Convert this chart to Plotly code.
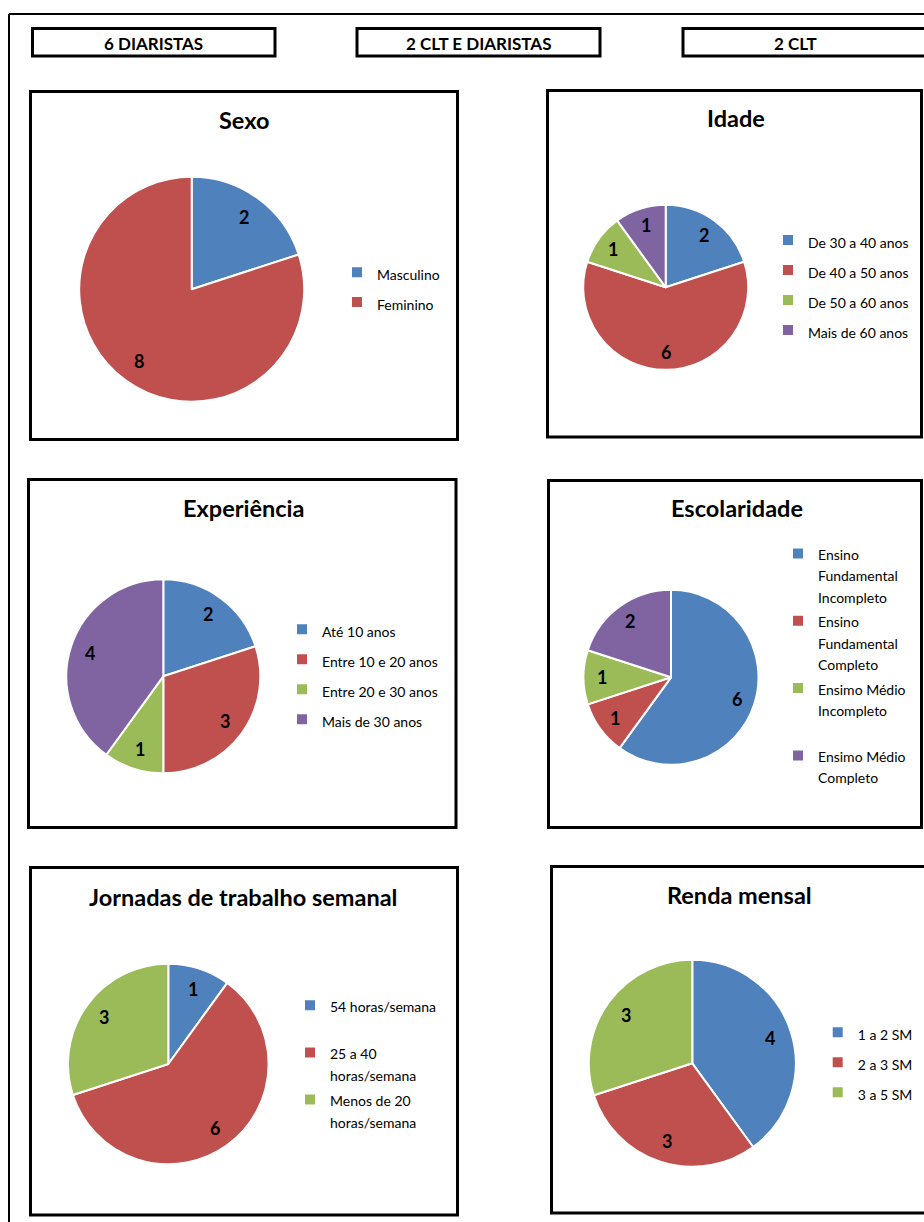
import math
import plotly.graph_objects as go

# ---------------- data ----------------
header_labels = ["6 DIARISTAS", "2 CLT E DIARISTAS", "2 CLT"]

sexo_title = "Sexo"
sexo_labels = ["Masculino", "Feminino"]
sexo_values = [2, 8]

idade_title = "Idade"
idade_labels = ["De 30 a 40 anos", "De 40 a 50 anos", "De 50 a 60 anos", "Mais de 60 anos"]
idade_values = [2, 6, 1, 1]

exp_title = "Experiência"
exp_labels = ["Até 10 anos", "Entre 10 e 20 anos", "Entre 20 e 30 anos", "Mais de 30 anos"]
exp_values = [2, 3, 1, 4]

esc_title = "Escolaridade"
esc_labels = ["Ensino<br>Fundamental<br>Incompleto", "Ensino<br>Fundamental<br>Completo",
              "Ensimo Médio<br>Incompleto<br> ", "Ensimo Médio<br>Completo"]
esc_values = [6, 1, 1, 2]

jor_title = "Jornadas de trabalho semanal"
jor_labels = ["54 horas/semana<br> ", "25 a 40<br>horas/semana", "Menos de 20<br>horas/semana"]
jor_values = [1, 6, 3]

renda_title = "Renda mensal"
renda_labels = ["1 a 2 SM", "2 a 3 SM", "3 a 5 SM"]
renda_values = [4, 3, 3]

colors = ["#4F81BD", "#C0504D", "#9BBB59", "#8064A2"]

# ---------------- layout helpers ----------------
W, H = 924, 1222
FONT = "Lato, 'Open Sans', sans-serif"
LABEL_RADIUS = 0.79  # data labels sit at this fraction of the radius, on the slice mid-angle


def px(x):
    return x / W


def py(y):
    return 1 - y / H


def styled(label, size=14):
    return "<br>".join(f'<span style="font-size:{size}px">{part}</span>' for part in label.split("<br>"))


# (title, labels, values, panel rect, title pos, pie centre, radius, legend text x, first row y, legend font)
panels = [
    (sexo_title, sexo_labels, sexo_values, (30.5, 91.5, 457.5, 439.5), (244, 120), (191.7, 289.3), 112.5, 375, 274.3, 20.5),
    (idade_title, idade_labels, idade_values, (547.5, 90.5, 921.5, 437), (736, 118), (665.7, 287.3), 82.5, 806, 242, 20.8),
    (exp_title, exp_labels, exp_values, (28.5, 479.5, 456, 827.5), (243, 508), (163.3, 676.3), 97, 320, 631.3, 20.8),
    (esc_title, esc_labels, esc_values, (548.5, 480.5, 921.5, 827.5), (737, 508), (671, 677.3), 87.5, 816, 554, 16.5),
    (jor_title, jor_labels, jor_values, (30.5, 867.5, 457.5, 1215), (243, 897), (168.3, 1064), 100.3, 328, 1006, 17),
    (renda_title, renda_labels, renda_values, (551.5, 866.5, 935, 1213), (739, 895), (692.3, 1063.3), 103.5, 855.7, 1034.3, 20.8),
]

fig = go.Figure()
shapes = []
annotations = []
layout_legends = {}

# outer frame
shapes.append(dict(type="line", xref="paper", yref="paper", x0=px(9), x1=px(930), y0=py(14), y1=py(14),
                   line=dict(color="black", width=2)))
shapes.append(dict(type="line", xref="paper", yref="paper", x0=px(9), x1=px(9), y0=py(14), y1=py(1230),
                   line=dict(color="black", width=2)))

# header boxes
header_boxes = [(32.5, 275), (357, 600), (683, 935)]
for lab, (x0, x1) in zip(header_labels, header_boxes):
    shapes.append(dict(type="rect", xref="paper", yref="paper", x0=px(x0), x1=px(x1), y0=py(28.5), y1=py(56),
                       line=dict(color="black", width=3)))
    cx = (x0 + x1) / 2 if x1 < 924 else (x0 + 908) / 2
    annotations.append(dict(text=f"<b>{lab}</b>", xref="paper", yref="paper", x=px(cx), y=py(43),
                            xanchor="center", yanchor="middle", showarrow=False,
                            font=dict(family=FONT, size=17, color="black")))

for i, (title, labels, values, rect, tpos, centre, r, legx, legy, legf) in enumerate(panels):
    x0, y0, x1, y1 = rect
    shapes.append(dict(type="rect", xref="paper", yref="paper", x0=px(x0), x1=px(x1), y0=py(y0), y1=py(y1),
                       line=dict(color="black", width=3), layer="below"))
    annotations.append(dict(text=f"<b>{title}</b>", xref="paper", yref="paper", x=px(tpos[0]), y=py(tpos[1]),
                            xanchor="center", yanchor="middle", showarrow=False,
                            font=dict(family=FONT, size=23.5, color="black")))
    cx, cy = centre
    legname = "legend" if i == 0 else f"legend{i + 1}"
    fig.add_trace(go.Pie(
        labels=[styled(l) for l in labels],
        values=values,
        sort=False,
        direction="clockwise",
        rotation=0,
        marker=dict(colors=colors[:len(values)], line=dict(color="white", width=2)),
        textinfo="none",
        domain=dict(x=[px(cx - r), px(cx + r)], y=[py(cy + r), py(cy - r)]),
        hoverinfo="skip",
        legend=legname,
        showlegend=True,
    ))
    # data labels (value), placed on each slice's mid-angle like Excel does
    total = float(sum(values))
    cum = 0.0
    for v in values:
        theta = 2 * math.pi * (cum + v / 2) / total
        cum += v
        lx = cx + LABEL_RADIUS * r * math.sin(theta)
        ly = cy - LABEL_RADIUS * r * math.cos(theta)
        annotations.append(dict(text=f"<b>{v}</b>", xref="paper", yref="paper", x=px(lx), y=py(ly),
                                xanchor="center", yanchor="middle", showarrow=False,
                                font=dict(family=FONT, size=18, color="black")))
    lh = 1.3 * legf
    layout_legends[legname] = dict(
        x=px(legx - 38), y=py(legy - lh / 2 - 1.5 - 0.34 * legf), xanchor="left", yanchor="top",
        font=dict(family=FONT, size=legf, color="#000000"),
        bgcolor="rgba(0,0,0,0)", borderwidth=0, valign="top",
        traceorder="normal",
    )

fig.update_layout(
    width=W, height=H,
    margin=dict(l=0, r=0, t=0, b=0),
    paper_bgcolor="white",
    plot_bgcolor="white",
    shapes=shapes,
    annotations=annotations,
    **layout_legends,
)

fig.write_html("out.html")
